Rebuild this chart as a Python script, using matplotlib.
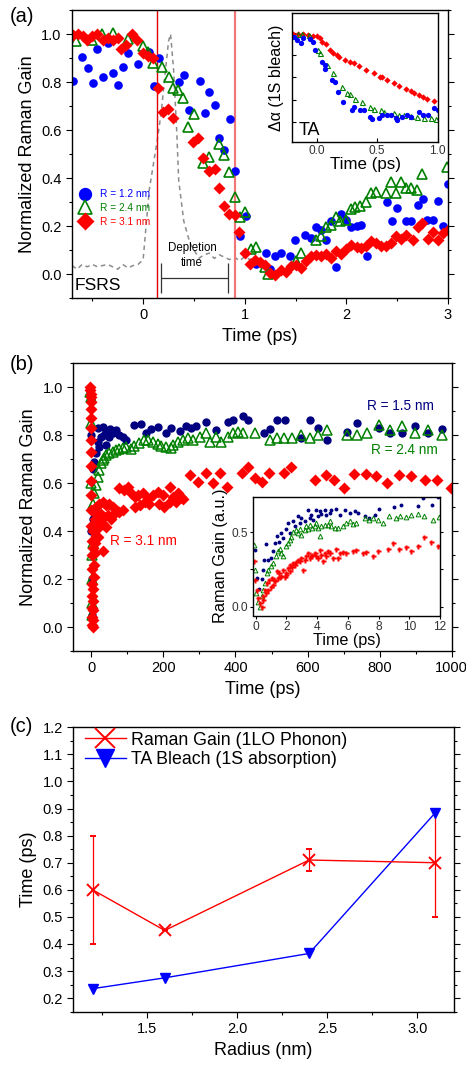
import numpy as np
import matplotlib.pyplot as plt
from matplotlib.ticker import MultipleLocator

plt.rcParams['font.family'] = ['Liberation Sans', 'DejaVu Sans']
plt.rcParams['axes.linewidth'] = 1.0

# ---------------- (a) short-time Raman gain ----------------
a_t_blue = [-0.686, -0.60, -0.545, -0.496, -0.45, -0.397, -0.348, -0.296, -0.25, -0.194,
            -0.148, -0.046, 0.056, 0.102, 0.154, 0.355, 0.40, 0.453, 0.555, 0.604,
            0.65, 0.703, 0.749, 0.80, 0.85, 0.903, 0.949, 1.008, 1.107, 1.205,
            1.25, 1.30, 1.353, 1.45, 1.497, 1.596, 1.655, 1.698, 1.754, 1.796,
            1.852, 1.90, 1.951, 2.0, 2.05, 2.10, 2.144, 2.20, 2.40, 2.453,
            2.50, 2.59, 2.64, 2.70, 2.75, 2.795, 2.854, 2.906, 2.952, 2.998]
a_y_blue = [0.806, 0.904, 0.857, 0.794, 0.939, 0.819, 0.964, 0.838, 0.787, 0.861,
            0.921, 0.875, 0.925, 0.784, 0.90, 0.80, 0.831, 0.683, 0.803, 0.672,
            0.759, 0.706, 0.568, 0.517, 0.644, 0.429, 0.159, 0.24, 0.042, 0.087,
            0.02, 0.073, 0.087, 0.073, 0.143, 0.162, 0.148, 0.195, 0.184, 0.143,
            0.22, 0.029, 0.248, 0.226, 0.195, 0.202, 0.204, 0.073, 0.298, 0.22,
            0.276, 0.22, 0.22, 0.287, 0.312, 0.223, 0.226, 0.306, 0.20, 0.375]

a_t_green = [-0.657, -0.50, -0.40, -0.30, -0.148, 0.0, 0.046, 0.095, 0.19, 0.25,
             0.296, 0.345, 0.397, 0.443, 0.50, 0.594, 0.647, 0.742, 0.798, 0.847,
             0.90, 0.949, 1.00, 1.06, 1.107, 1.20, 1.23, 1.507, 1.55, 1.704,
             1.754, 1.796, 1.852, 1.90, 1.94, 2.0, 2.043, 2.089, 2.138, 2.197,
             2.246, 2.296, 2.394, 2.443, 2.493, 2.542, 2.59, 2.64, 2.694, 2.745,
             2.99]
a_y_green = [0.97, 0.975, 1.0, 1.005, 0.98, 0.949, 0.925, 0.881, 0.864, 0.82,
             0.776, 0.765, 0.733, 0.611, 0.665, 0.464, 0.489, 0.54, 0.496, 0.425,
             0.32, 0.237, 0.258, 0.104, 0.111, 0.029, 0.001, 0.053, 0.087, 0.14,
             0.157, 0.195, 0.205, 0.237, 0.222, 0.226, 0.271, 0.281, 0.285, 0.302,
             0.337, 0.342, 0.337, 0.384, 0.337, 0.384, 0.36, 0.357, 0.35, 0.415,
             0.445]

a_t_red = [-0.686, -0.644, -0.594, -0.555, -0.50, -0.45, -0.397, -0.348, -0.30, -0.25,
           -0.214, -0.165, -0.105, -0.059, 0.0, 0.049, 0.099, 0.148, 0.194, 0.243,
           0.296, 0.49, 0.539, 0.594, 0.653, 0.703, 0.745, 0.80, 0.844, 0.906,
           0.943, 1.00, 1.054, 1.103, 1.153, 1.20, 1.251, 1.30, 1.353, 1.402,
           1.452, 1.504, 1.557, 1.606, 1.655, 1.704, 1.754, 1.803, 1.852, 1.90,
           1.951, 2.0, 2.05, 2.10, 2.148, 2.197, 2.246, 2.296, 2.345, 2.394,
           2.443, 2.493, 2.542, 2.59, 2.657, 2.706, 2.749, 2.80, 2.85, 2.906,
           2.955, 3.0]
a_y_red = [0.997, 1.0, 0.99, 0.976, 0.992, 0.999, 0.974, 0.983, 0.976, 0.983,
           0.939, 0.953, 1.002, 0.974, 0.919, 0.909, 0.898, 0.775, 0.676, 0.686,
           0.648, 0.551, 0.565, 0.482, 0.429, 0.436, 0.357, 0.284, 0.251, 0.247,
           0.173, 0.087, 0.043, 0.057, 0.051, 0.036, 0.004, -0.003, 0.018, 0.007,
           0.032, 0.039, 0.025, 0.053, 0.073, 0.08, 0.073, 0.084, 0.066, 0.094,
           0.084, 0.104, 0.122, 0.112, 0.108, 0.118, 0.136, 0.129, 0.118, 0.118,
           0.129, 0.157, 0.145, 0.163, 0.143, 0.195, 0.212, 0.145, 0.177, 0.143,
           0.17, 0.184]

# FSRS pump/probe cross-correlation (grey dashed)
fsrs_t = [-0.70, -0.65, -0.60, -0.55, -0.50, -0.45, -0.40, -0.35, -0.30, -0.25,
          -0.20, -0.15, -0.10, -0.05, 0.0, 0.06, 0.14, 0.18, 0.21, 0.25,
          0.27, 0.30, 0.33, 0.35, 0.40, 0.46, 0.50, 0.55, 0.60, 0.65,
          0.70, 0.75, 0.80, 0.85, 0.90, 0.95, 1.00, 1.05, 1.10]
fsrs_y = [0.035, 0.02, 0.04, 0.03, 0.04, 0.03, 0.035, 0.04, 0.03, 0.02,
          0.04, 0.025, 0.035, 0.04, 0.06, 0.35, 0.56, 0.68, 0.81, 0.97,
          1.0, 0.85, 0.6, 0.39, 0.22, 0.13, 0.10, 0.066, 0.08, 0.087,
          0.065, 0.08, 0.07, 0.06, 0.07, 0.055, 0.073, 0.06, 0.07]

# TA inset
ta_t_red = [-0.194, -0.153, -0.111, -0.069, -0.028, 0.006, 0.028, 0.042, 0.078, 0.111,
            0.139, 0.167, 0.189, 0.236, 0.278, 0.311, 0.35, 0.411, 0.472, 0.522,
            0.542, 0.583, 0.639, 0.681, 0.736, 0.778, 0.806, 0.847, 0.875, 0.908,
            0.972]
ta_y_red = [3.94, 3.94, 3.94, 3.91, 3.88, 3.86, 3.76, 3.61, 3.49, 3.23,
            3.11, 3.01, 2.93, 2.78, 2.69, 2.63, 2.53, 2.33, 2.18, 2.03,
            2.0, 1.88, 1.73, 1.61, 1.46, 1.40, 1.31, 1.20, 1.13, 1.04,
            0.95]
ta_t_blue = [-0.189, -0.161, -0.125, -0.111, -0.056, -0.033, -0.014, 0.042, 0.069, 0.069,
             0.125, 0.153, 0.181, 0.222, 0.292, 0.306, 0.361, 0.389, 0.444, 0.458,
             0.514, 0.542, 0.578, 0.611, 0.653, 0.667, 0.708, 0.75, 0.778, 0.847,
             0.875, 0.917, 0.972, 1.0]
ta_y_blue = [3.80, 3.68, 3.56, 3.79, 3.71, 3.61, 3.23, 2.71, 2.56, 2.38,
             1.88, 1.80, 1.35, 0.90, 0.53, 0.68, 0.53, 0.53, 0.23, 0.11,
             0.15, 0.30, 0.30, 0.30, 0.15, 0.08, 0.23, 0.30, 0.20, 0.45,
             0.30, 0.30, 0.63, 0.53]
ta_t_green = [-0.153, -0.117, -0.061, 0.014, 0.028, 0.083, 0.139, 0.208, 0.25, 0.278,
              0.319, 0.375, 0.444, 0.472, 0.528, 0.556, 0.639, 0.681, 0.722, 0.778,
              0.833, 0.889, 0.944, 0.986]
ta_y_green = [3.95, 3.95, 3.92, 3.23, 3.08, 2.56, 2.21, 1.55, 1.28, 1.23,
              1.01, 0.90, 0.65, 0.59, 0.53, 0.45, 0.38, 0.32, 0.30, 0.26,
              0.23, 0.15, 0.15, 0.12]

# ---------------- (b) long-time Raman gain ----------------
b_t_navy = [-3, -1, 0, 0.5, 1, 2, 4, 5, 8,
            13.0, 17.6, 17.6, 22.3, 26.9, 31.5, 36.2, 40.8, 40.8, 50.1,
            52.0, 59.4, 68.7, 78.0, 87.2, 96.5, 119.7, 138.3, 152.2, 166.1,
            184.6, 207.8, 221.8, 245.0, 263.5, 277.4, 291.3, 319.2, 347.0, 379.5,
            393.4, 421.2, 435.2, 478.8, 494.5, 515, 538, 583, 606, 629,
            654, 710, 738, 798, 830, 863, 898, 935, 972]
b_y_navy = [0.97, 0.95, 0.8, 0.4, 0.05, 0.2, 0.45, 0.66, 0.69,
            0.724, 0.829, 0.773, 0.752, 0.794, 0.836, 0.801, 0.815, 0.759, 0.794,
            0.825, 0.808, 0.822, 0.801, 0.794, 0.780, 0.843, 0.848, 0.808, 0.825,
            0.836, 0.808, 0.829, 0.818, 0.839, 0.829, 0.839, 0.857, 0.822, 0.857,
            0.864, 0.881, 0.864, 0.808, 0.827, 0.864, 0.864, 0.787, 0.862, 0.829,
            0.78, 0.815, 0.853, 0.829, 0.811, 0.811, 0.839, 0.808, 0.825]

b_t_green = [-3, -1, 0, 0.3, 0.6, 1, 2, 3, 5,
             3.7, 8.4, 13.0, 17.6, 22.3, 26.9, 31.5, 36.2, 40.8, 50.1,
             59.4, 68.7, 78.0, 87.2, 96.5, 110.4, 119.7, 133.6, 147.5, 156.8,
             170.7, 184.6, 193.9, 207.8, 221.8, 226.4, 240.3, 254.2, 268.2, 282.1,
             300.6, 319.2, 328.5, 347.0, 360.9, 379.5, 393.4, 407.3, 421.2, 453.7,
             495.5, 515, 535, 558, 583, 606, 629, 654, 710, 736,
             766, 798, 830, 863, 898, 935, 972]
b_y_green = [0.98, 0.96, 0.85, 0.6, 0.3, 0.05, 0.1, 0.2, 0.35,
             0.515, 0.557, 0.592, 0.627, 0.655, 0.683, 0.697, 0.703, 0.717, 0.724,
             0.731, 0.738, 0.743, 0.745, 0.750, 0.743, 0.755, 0.766, 0.778, 0.780,
             0.773, 0.764, 0.755, 0.752, 0.745, 0.759, 0.773, 0.780, 0.787, 0.780,
             0.794, 0.808, 0.773, 0.794, 0.773, 0.794, 0.808, 0.815, 0.808, 0.811,
             0.780, 0.787, 0.787, 0.787, 0.80, 0.787, 0.80, 0.822, 0.80, 0.80,
             0.808, 0.843, 0.822, 0.839, 0.811, 0.822, 0.801]

b_t_red = [-4, -3, -2, -1.5, -1, -0.5, -0.3, -0.2, -0.1, 0,
           0.1, 0.2, 0.3, 0.4, 0.5, 0.6, 0.8, 1.0, 1.2, 1.5,
           2, 2.5, 3, 3.5, 4, 4.5, 5, 6, 7, 8,
           9, 10, 5, 8, 10, 12, 6, 15, 25, 10,
           3.7, 13, 22, 32, 41, 50, 59, 69, 78, 87,
           18, 27, 36, 45, 55, 64, 22, 32, 41, 18,
           32, 120, 134, 148, 161, 189, 203, 217, 236, 250,
           78, 92, 101, 110, 120, 129, 143, 157, 171, 185,
           199, 217, 226, 240, 254, 274, 297, 318, 339, 357,
           376, 418, 436, 455, 473, 492, 534, 554, 621, 650,
           673, 701, 730, 761, 791, 821, 854, 888, 925, 960,
           999]
b_y_red = [1.0, 0.99, 0.97, 0.96, 0.94, 0.91, 0.87, 0.83, 0.78, 0.73,
           0.67, 0.61, 0.55, 0.49, 0.42, 0.36, 0.30, 0.24, 0.18, 0.13,
           0.08, 0.04, 0.01, 0.0, 0.03, 0.07, 0.11, 0.16, 0.21, 0.26,
           0.31, 0.35, 0.40, 0.43, 0.45, 0.38, 0.33, 0.44, 0.44, 0.48,
           0.487, 0.501, 0.515, 0.522, 0.508, 0.515, 0.501, 0.487, 0.480, 0.487,
           0.459, 0.473, 0.459, 0.466, 0.452, 0.473, 0.417, 0.431, 0.417, 0.375,
           0.319, 0.501, 0.508, 0.522, 0.515, 0.515, 0.501, 0.522, 0.522, 0.543,
           0.578, 0.571, 0.585, 0.557, 0.543, 0.550, 0.557, 0.536, 0.550, 0.564,
           0.550, 0.585, 0.543, 0.557, 0.536, 0.634, 0.606, 0.641, 0.599, 0.641,
           0.585, 0.641, 0.669, 0.620, 0.606, 0.641, 0.641, 0.669, 0.613, 0.634,
           0.613, 0.578, 0.638, 0.638, 0.629, 0.599, 0.634, 0.629, 0.615, 0.613,
           0.578]

# (b) inset, first 12 ps
bi_t_navy = [-0.05, 0.11, 0.24, 0.39, 0.50, 0.54, 0.67, 0.82, 0.97, 1.10,
             1.25, 1.36, 1.53, 1.68, 1.79, 1.97, 2.12, 2.27, 2.44, 2.55,
             2.76, 2.87, 2.98, 3.20, 3.41, 3.52, 3.63, 3.74, 3.91, 4.06,
             4.17, 4.28, 4.49, 4.60, 4.82, 4.93, 5.21, 5.47, 5.79, 6.12,
             6.44, 6.66, 7.09, 7.41, 7.74, 8.02, 9.03, 9.47, 10.55, 10.91,
             11.48, 11.89]
bi_y_navy = [0.383, 0.192, 0.117, 0.185, 0.248, 0.311, 0.424, 0.315, 0.324, 0.372,
             0.428, 0.473, 0.432, 0.496, 0.462, 0.523, 0.563, 0.496, 0.574, 0.545,
             0.608, 0.563, 0.597, 0.574, 0.649, 0.597, 0.620, 0.581, 0.653, 0.608,
             0.642, 0.626, 0.649, 0.620, 0.631, 0.653, 0.658, 0.620, 0.649, 0.631,
             0.642, 0.631, 0.608, 0.597, 0.620, 0.660, 0.671, 0.682, 0.676, 0.732,
             0.682, 0.739]
bi_t_green = [-0.11, -0.05, 0.02, 0.17, 0.28, 0.39, 0.50, 0.60, 0.71, 0.82,
              0.97, 1.14, 1.32, 1.47, 1.58, 1.68, 1.79, 1.97, 2.12, 2.22,
              2.33, 2.44, 2.61, 2.76, 2.87, 2.98, 3.20, 3.30, 3.41, 3.52,
              3.69, 3.85, 3.95, 4.06, 4.17, 4.28, 4.49, 4.71, 4.82, 4.93,
              5.14, 5.36, 5.68, 5.90, 6.12, 6.33, 6.55, 7.09, 7.41, 7.63,
              7.95, 8.28, 8.71, 9.14, 9.40, 9.79, 10.11, 10.55, 10.98, 11.52,
              11.91]
bi_y_green = [0.417, 0.248, 0.090, 0.034, 0.0, 0.068, 0.113, 0.158, 0.225, 0.248,
              0.270, 0.293, 0.338, 0.372, 0.387, 0.360, 0.338, 0.405, 0.428, 0.451,
              0.469, 0.500, 0.514, 0.496, 0.523, 0.484, 0.514, 0.541, 0.523, 0.552,
              0.529, 0.545, 0.563, 0.529, 0.473, 0.541, 0.552, 0.552, 0.574, 0.541,
              0.529, 0.529, 0.545, 0.563, 0.574, 0.559, 0.563, 0.597, 0.581, 0.597,
              0.581, 0.563, 0.608, 0.597, 0.608, 0.604, 0.619, 0.626, 0.613, 0.581,
              0.604]
bi_t_red = [-0.11, -0.05, 0.06, 0.17, 0.28, 0.39, 0.50, 0.60, 0.75, 0.88,
            1.04, 1.19, 1.36, 1.53, 1.68, 1.79, 1.97, 2.12, 2.27, 2.44,
            2.61, 2.76, 2.98, 3.09, 3.30, 3.41, 3.52, 3.69, 3.85, 3.95,
            4.17, 4.28, 4.39, 4.49, 4.71, 4.82, 5.03, 5.21, 5.47, 5.68,
            5.90, 6.33, 6.55, 6.98, 7.20, 7.63, 7.95, 8.60, 8.97, 9.36,
            9.79, 10.11, 10.55, 10.98, 11.42, 11.89, 0.50, 0.67, 0.82, 0.97,
            1.14, 1.25, 1.47, 1.62, 1.90, 2.01, 2.22, 2.40, 2.55, 2.87,
            3.20, 3.63, 4.06, 4.60, 5.36]
bi_y_red = [0.304, 0.180, 0.113, 0.056, 0.023, 0.0, 0.045, 0.113, 0.158, 0.180,
            0.192, 0.180, 0.237, 0.225, 0.203, 0.248, 0.225, 0.259, 0.282, 0.293,
            0.298, 0.316, 0.327, 0.248, 0.338, 0.361, 0.327, 0.349, 0.361, 0.338,
            0.383, 0.349, 0.304, 0.361, 0.372, 0.361, 0.327, 0.388, 0.361, 0.365,
            0.361, 0.372, 0.383, 0.361, 0.365, 0.338, 0.372, 0.388, 0.428, 0.388,
            0.401, 0.372, 0.410, 0.469, 0.432, 0.405, 0.068, 0.090, 0.113, 0.135,
            0.147, 0.169, 0.192, 0.198, 0.198, 0.214, 0.237, 0.266, 0.282, 0.304,
            0.316, 0.338, 0.327, 0.338, 0.327]

# ---------------- (c) time constants ----------------
c_radius = [1.2, 1.6, 2.4, 3.1]
c_raman = [0.60, 0.45, 0.71, 0.70]
c_raman_err = [0.20, 0.0, 0.04, 0.20]
c_ta = [0.235, 0.275, 0.365, 0.885]

W, H = 466, 1066
fig = plt.figure(figsize=(W / 100, H / 100), dpi=100)


def box(l, t, r, b):
    return [l / W, 1 - b / H, (r - l) / W, (b - t) / H]


def frame(ax, fs=10.5):
    ax.tick_params(which='both', direction='out', right=True, top=False,
                   labelsize=fs, width=0.8)
    ax.tick_params(which='major', length=4)
    ax.tick_params(which='minor', length=2)


# ---- panel (a) ----
axa = fig.add_axes(box(72, 10, 448, 298))
axa.plot(fsrs_t, fsrs_y, ls=(0, (3, 2.5)), color='#8c8c8c', lw=1.1, zorder=1)
axa.axvline(0.134, color='#e00000', lw=1.0, zorder=1)
axa.axvline(0.90, color='#f07878', lw=1.6, zorder=1)
axa.plot(a_t_blue, a_y_blue, 'o', color='#0000ff', ms=6.2, mec='none', label='R = 1.2 nm')
axa.plot(a_t_green, a_y_green, '^', mfc='none', mec='#008000', mew=1.2, ms=6.6, label='R = 2.4 nm')
axa.plot(a_t_red, a_y_red, 'D', color='#ff0000', ms=6.0, mec='none', label='R = 3.1 nm')

axa.vlines([0.177, 0.84], -0.079, 0.046, color='#333333', lw=0.9)
axa.hlines(-0.017, 0.177, 0.84, color='#333333', lw=0.9)
axa.text(0.483, 0.077, 'Depletion\ntime', ha='center', va='center', fontsize=8.3, linespacing=1.3)
axa.text(0.008, 0.045, 'FSRS', transform=axa.transAxes, fontsize=12.6, va='center')

axa.set_xlim(-0.7, 3.0)
axa.set_ylim(-0.1, 1.1)
axa.set_xticks([0, 1, 2, 3])
axa.set_yticks([0.0, 0.2, 0.4, 0.6, 0.8, 1.0])
axa.set_yticklabels(['0.0', '0.2', '0.4', '0.6', '0.8', '1.0'])
axa.xaxis.set_minor_locator(MultipleLocator(0.5))
axa.yaxis.set_minor_locator(MultipleLocator(0.1))
frame(axa)
axa.set_xlabel('Time (ps)', fontsize=13)
axa.set_ylabel('Normalized Raman Gain', fontsize=13)
leg = axa.legend(loc='center left', bbox_to_anchor=(0.02, 0.3125), frameon=False,
                 fontsize=7.3, markerscale=1.55, handlelength=1.0, handletextpad=1.0,
                 labelspacing=0.35, borderpad=0, borderaxespad=0)
for txt, col in zip(leg.get_texts(), ['#0000ff', '#008000', '#ff0000']):
    txt.set_color(col)

axi = fig.add_axes(box(292.3, 13.3, 437.7, 142.3))
axi.plot(ta_t_red, ta_y_red, 'D', color='#ff0000', ms=3.2, mec='none')
axi.plot(ta_t_green, ta_y_green, '^', mfc='none', mec='#008000', mew=0.8, ms=3.6)
axi.plot(ta_t_blue, ta_y_blue, 'o', color='#0000ff', ms=3.8, mec='none')
axi.set_xlim(-0.2, 1.0)
axi.set_ylim(-0.93, 4.89)
axi.set_xticks([0.0, 0.5, 1.0])
axi.set_xticklabels(['0.0', '0.5', '1.0'])
axi.set_yticks([0, 1, 2, 3, 4])
axi.set_yticklabels([])
axi.tick_params(direction='in', length=3, width=0.8, labelsize=8.6, labelcolor='#333333', pad=2)
axi.set_xlabel('Time (ps)', fontsize=12.2, labelpad=0)
axi.set_ylabel('Δα (1S bleach)', fontsize=11.5, labelpad=4)
axi.text(0.041, 0.095, 'TA', transform=axi.transAxes, fontsize=13, va='center')

# ---- panel (b) ----
axb = fig.add_axes(box(73.3, 363.3, 451.7, 651))
axb.plot(b_t_navy, b_y_navy, 'o', color='#000080', ms=6.0, mec='none')
axb.plot(b_t_green, b_y_green, '^', mfc='none', mec='#008000', mew=1.1, ms=6.6)
axb.plot(b_t_red, b_y_red, 'D', color='#ff0000', ms=6.2, mec='none')
axb.text(765, 0.923, 'R = 1.5 nm', color='#000080', fontsize=9.8, va='center')
axb.text(775, 0.739, 'R = 2.4 nm', color='#008000', fontsize=9.8, va='center')
axb.text(51, 0.357, 'R = 3.1 nm', color='#ff0000', fontsize=9.8, va='center')
axb.set_xlim(-50, 1000)
axb.set_ylim(-0.1, 1.1)
axb.set_xticks([0, 200, 400, 600, 800, 1000])
axb.set_yticks([0.0, 0.2, 0.4, 0.6, 0.8, 1.0])
axb.set_yticklabels(['0.0', '0.2', '0.4', '0.6', '0.8', '1.0'])
axb.xaxis.set_minor_locator(MultipleLocator(100))
axb.yaxis.set_minor_locator(MultipleLocator(0.1))
frame(axb)
axb.set_xlabel('Time (ps)', fontsize=13)
axb.set_ylabel('Normalized Raman Gain', fontsize=13)

axbi = fig.add_axes(box(253.3, 496.7, 440, 615.5))
axbi.plot(bi_t_navy, bi_y_navy, 'o', color='#000080', ms=2.8, mec='none')
axbi.plot(bi_t_green, bi_y_green, '^', mfc='none', mec='#008000', mew=0.7, ms=3.4)
axbi.plot(bi_t_red, bi_y_red, 'P', color='#ff0000', ms=3.6, mec='none')
axbi.set_xlim(-0.15, 12)
axbi.set_ylim(-0.06, 0.74)
axbi.set_xticks([0, 2, 4, 6, 8, 10, 12])
axbi.set_yticks([0.0, 0.5])
axbi.set_yticklabels(['0.0', '0.5'])
axbi.yaxis.set_minor_locator(MultipleLocator(0.25))
axbi.tick_params(which='both', direction='out', right=True, length=2.5, width=0.8,
                 labelsize=8.6, labelcolor='#333333', pad=1.5)
axbi.set_xlabel('Time (ps)', fontsize=11.6, labelpad=0)
axbi.set_ylabel('Raman Gain (a.u.)', fontsize=11.7, labelpad=2)

# ---- panel (c) ----
axc = fig.add_axes(box(73.3, 727.3, 454, 1011.7))
eb = axc.errorbar(c_radius, c_raman, yerr=c_raman_err, color='#ff0000', marker='x', ms=8.5,
                  mew=1.4, lw=1.0, capsize=2.5, elinewidth=0.9, capthick=0.9)
ta_line, = axc.plot(c_radius, c_ta, color='#0000ff', marker='v', ms=7.5, lw=1.0)
axc.set_xlim(1.093, 3.203)
axc.set_ylim(0.15, 1.2)
axc.set_xticks([1.5, 2.0, 2.5, 3.0])
axc.set_yticks([0.2, 0.3, 0.4, 0.5, 0.6, 0.7, 0.8, 0.9, 1.0, 1.1, 1.2])
axc.set_yticklabels(['0.2', '0.3', '0.4', '0.5', '0.6', '0.7', '0.8', '0.9', '1.0', '1.1', '1.2'])
axc.xaxis.set_minor_locator(MultipleLocator(0.25))
axc.yaxis.set_minor_locator(MultipleLocator(0.05))
frame(axc)
axc.set_xlabel('Radius (nm)', fontsize=13)
axc.set_ylabel('Time (ps)', fontsize=13)
axc.legend([eb.lines[0], ta_line], ['Raman Gain (1LO Phonon)', 'TA Bleach (1S absorption)'],
           loc='upper left', bbox_to_anchor=(0.03, 0.985), frameon=False, fontsize=12.8,
           markerscale=1.7, handlelength=2.3, handletextpad=0.3, labelspacing=0.15,
           borderpad=0, borderaxespad=0)

fig.text(10 / W, 1 - 16 / H, '(a)', fontsize=14.5, va='center')
fig.text(10 / W, 1 - 365 / H, '(b)', fontsize=14.5, va='center')
fig.text(10 / W, 1 - 727 / H, '(c)', fontsize=14.5, va='center')

fig.savefig('out.png', dpi=100)
plt.close(fig)
